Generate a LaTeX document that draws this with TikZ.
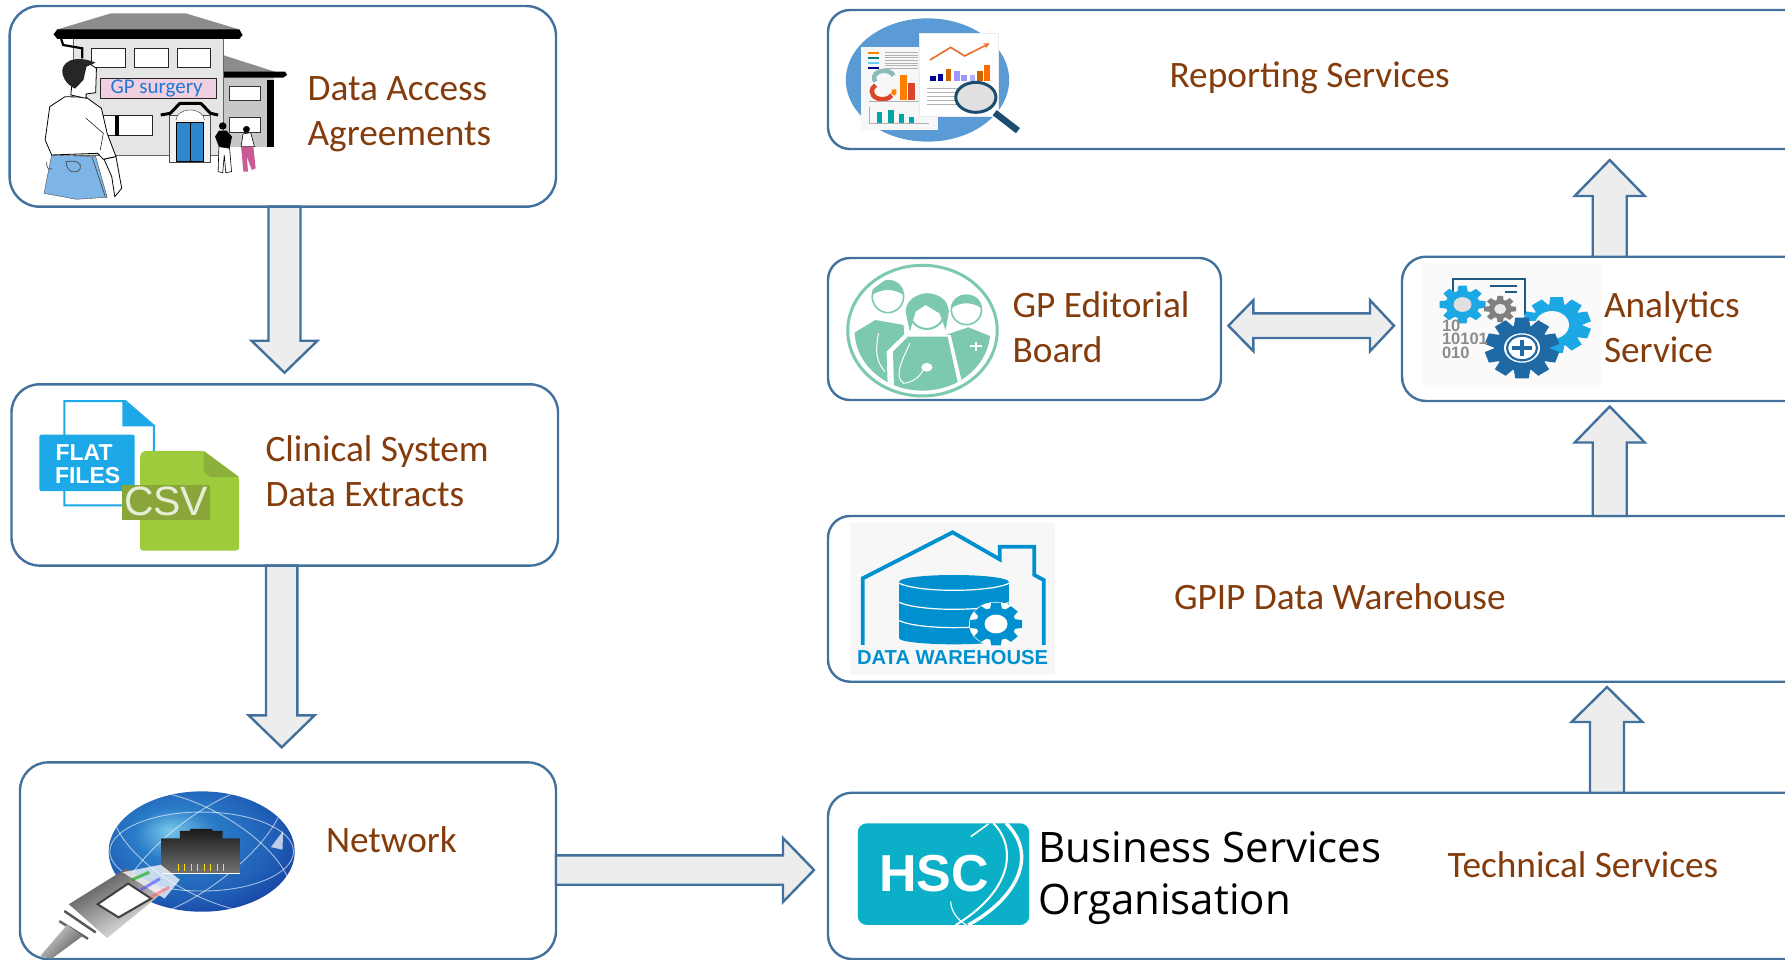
\documentclass[tikz,border=0pt]{standalone}
\usepackage{fontspec}
\setmainfont{Carlito}
\newfontfamily\arialf{Liberation Sans}
\newfontfamily\bsofont{Open Sans}
\usetikzlibrary{calc,shapes.geometric}
\definecolor{edgeblue}{HTML}{41719C}
\definecolor{arrowfill}{HTML}{EDEDED}
\definecolor{labelbrown}{HTML}{843C0C}
\definecolor{filesblue}{HTML}{1DA9E8}
\definecolor{csvgreen}{HTML}{9DCB3B}
\definecolor{csvfold}{HTML}{8CB03A}
\definecolor{csvband}{HTML}{8AA63A}
\definecolor{csvtext}{HTML}{E8EDD8}
\definecolor{medgreen}{HTML}{7CC9AE}
\definecolor{dwblue}{HTML}{0090D0}
\definecolor{hsc}{HTML}{0BB0C8}
\definecolor{gearlight}{HTML}{1BA8E4}
\definecolor{geardark}{HTML}{1F6AA5}
\definecolor{cardline}{HTML}{1F5A82}
\definecolor{jeans}{HTML}{7DB6E6}
\definecolor{signpink}{HTML}{EFCFE0}
\definecolor{doorblue}{HTML}{2E86CC}
\definecolor{legpink}{HTML}{C85A96}
\definecolor{signtext}{HTML}{1F78D1}
\definecolor{globelight}{HTML}{78C6EA}
\definecolor{globemid}{HTML}{2A7CC8}
\definecolor{globemidb}{HTML}{1F5CB5}
\definecolor{globeout}{HTML}{16309A}
\definecolor{repblue}{HTML}{5B9BD5}
\definecolor{repred}{HTML}{DC4628}
\definecolor{reporange}{HTML}{E86E28}
\definecolor{lensdark}{HTML}{1B4D6E}
\pgfdeclareradialshading{globeshade}{\pgfpoint{-9bp}{9bp}}{color(0bp)=(globelight); color(11bp)=(globemid); color(25bp)=(globemidb); color(36bp)=(globeout); color(50bp)=(globeout)}
\tikzset{
  roundbox/.style={draw=edgeblue,line width=2.4pt,fill=white,rectangle,anchor=north west,inner sep=0pt,outer sep=0pt},
  blockshape/.style={draw=edgeblue,line width=2.4pt,fill=arrowfill,line join=miter},
  lbl/.style={anchor=base west,inner sep=0pt,outer sep=0pt,text=labelbrown,align=left,font=\fontsize{37.3}{45}\selectfont},
  iconlbl/.style={inner sep=0pt,outer sep=0pt,anchor=base west},
}
% start, tip, half shaft, half head, head length
\newcommand{\blockarrow}[5]{%
  \coordinate (sh) at ($(#2)!#5!(#1)$);
  \draw[blockshape] ($(#1)!#3!90:(#2)$) -- ($(sh)!#3!-90:(#1)$) -- ($(sh)!#4!-90:(#1)$) -- (#2)
     -- ($(sh)!#4!90:(#1)$) -- ($(sh)!#3!90:(#1)$) -- ($(#1)!#3!-90:(#2)$) -- cycle;}
% x,y,router,rinner,teeth,color  (flattened like the stretched original)
\newcommand{\gear}[6]{%
  \pgfmathsetmacro{\tw}{#4*0.3}
  \fill[fill=#6,shift={(#1,#2)},yscale=0.82] (0,0) circle (#4);
  \foreach \k in {1,...,#5}{
    \fill[fill=#6,shift={(#1,#2)},yscale=0.82,rotate=\k*360/#5] (-\tw,#4*0.9) -- (-\tw*0.8,#3) -- (\tw*0.8,#3) -- (\tw,#4*0.9) -- cycle;}
}
\newcommand{\gearhole}[4]{\fill[fill=#4,shift={(#1,#2)},yscale=0.82] (0,0) circle (#3);}
\begin{document}
\begin{tikzpicture}[x=1pt,y=-1pt]
\useasboundingbox (0,0) rectangle (1785,960);
\clip (0,0) rectangle (1785,960);
\fill[white] (0,0) rectangle (1785,960);

% ---------- boxes
\node[roundbox,minimum width=546.4pt,minimum height=200.7pt,rounded corners=30pt] (accessbox) at (9.6,6) {};
\node[roundbox,minimum width=546.5pt,minimum height=181.3pt,rounded corners=28pt] (extractbox) at (11.5,384.3) {};
\node[roundbox,minimum width=536pt,minimum height=196.6pt,rounded corners=28pt] (netbox) at (20,762.4) {};
\node[roundbox,minimum width=990pt,minimum height=139pt,rounded corners=22pt] (reportbox) at (828,10) {};
\node[roundbox,minimum width=393pt,minimum height=142pt,rounded corners=22pt] (editbox) at (828,258) {};
\node[roundbox,minimum width=420pt,minimum height=144.3pt,rounded corners=24pt] (analyticbox) at (1402,256.7) {};
\node[roundbox,minimum width=990pt,minimum height=165.7pt,rounded corners=22pt] (dwbox) at (828,516) {};
\node[roundbox,minimum width=990pt,minimum height=166.3pt,rounded corners=24pt] (hscbox) at (828,792.7) {};

% ---------- connectors
\coordinate (tipA) at (284.5,372.7);
\path (accessbox.south -| tipA) coordinate (startA);
\blockarrow{startA}{tipA}{16pt}{33pt}{32pt}
\coordinate (tipB) at (281.7,747.3);
\path (extractbox.south -| tipB) coordinate (startB);
\blockarrow{startB}{tipB}{15.7pt}{33pt}{32pt}
\coordinate (tipC) at (814,870);
\path (netbox.east |- tipC) coordinate (startC);
\blockarrow{startC}{tipC}{14.7pt}{32pt}{31pt}
\coordinate (tipD) at (1607,687);
\path (hscbox.north -| tipD) coordinate (startD);
\blockarrow{startD}{tipD}{17pt}{35.5pt}{35pt}
\coordinate (tipE) at (1609.7,406.5);
\path (dwbox.north -| tipE) coordinate (startE);
\blockarrow{startE}{tipE}{17pt}{35pt}{36pt}
\coordinate (tipF) at (1609.7,160);
\path (analyticbox.north -| tipF) coordinate (startF);
\blockarrow{startF}{tipF}{17pt}{35pt}{36pt}
\coordinate (tipL) at (1228.4,325.7);
\coordinate (tipR) at (1394,325.7);
\draw[blockshape] (tipL) -- ($(tipL)+(25,-25.5)$) -- ($(tipL)+(25,-12.3)$) -- ($(tipR)+(-24,-12.3)$)
  -- ($(tipR)+(-24,-25.5)$) -- (tipR) -- ($(tipR)+(-24,25.5)$) -- ($(tipR)+(-24,12.3)$)
  -- ($(tipL)+(25,12.3)$) -- ($(tipL)+(25,25.5)$) -- cycle;

% ---------- labels
\node[lbl] (tAccess) at (307.6,145.7) {Data Access\\Agreements};
\node[lbl] (tExtract) at (265.5,506) {Clinical System\\Data Extracts};
\node[lbl] (tNet) at (326,852.7) {Network};
\node[lbl] (tReport) at (1169.6,87.5) {Reporting Services};
\node[lbl] (tEdit) at (1012.6,362.5) {GP Editorial\\Board};
\node[lbl] (tAnalytics) at (1604,362.5) {Analytics\\Service};
\node[lbl] (tDw) at (1174,609.5) {GPIP Data Warehouse};
\node[lbl] (tTech) at (1447.6,877.3) {Technical Services};
\node[lbl,text=black,font=\bsofont\fontsize{42}{52}\selectfont] (tBso) at (1038.6,914.2) {Business Services\\Organisation};

% ---------- surgery icon (zoom coordinates)
\begin{scope}[xscale=0.3827,yscale=0.3333]
  \fill[black!22] (582,225) rectangle (715,440);
  \fill[black!45] (582,165) -- (745,225) -- (582,225) -- cycle;
  \fill[black] (582,215) -- (745,215) -- (750,225) -- (740,233) -- (582,233) -- cycle;
  \fill[black] (697,240) rectangle (715,440);
  \fill[white,draw=black!80] (598,258) rectangle (680,302);
  \fill[white,draw=black!80] (598,352) rectangle (680,398);
  \fill[black!10,draw=black!60] (190,115) rectangle (582,465);
  \fill[black!45] (145,90) -- (290,40) -- (485,40) -- (630,90) -- cycle;
  \fill[black] (150,88) -- (625,88) -- (634,105) -- (625,117) -- (150,117) -- (140,103) -- cycle;
  \draw[black,line width=2.2pt] (160,117) -- (165,135) -- (215,145) -- (215,175);
  \foreach \xa/\xb in {240/328,352/440,463/551}
    \draw[fill=white,draw=black!85,line width=1pt] (\xa,145) rectangle (\xb,203);
  \draw[fill=white,draw=black!85,line width=1pt] (270,348) rectangle (398,407);
  \fill[black] (300,348) rectangle (312,407);
  \draw[fill=signpink,draw=black!85,line width=1pt] (262,236) rectangle (566,296);
  \fill[black!5,draw=black!70] (442,345) rectangle (550,488);
  \draw[fill=white,draw=black!80] (460,360) arc[start angle=180,end angle=360,x radius=37,y radius=30];
  \fill[doorblue,draw=black] (460,367) rectangle (532,485);
  \draw[black,line width=0.8pt] (497,367) -- (497,485);
  \draw[black,line width=3pt,line join=round] (420,345) -- (445,340) -- (470,310) -- (525,310) -- (550,340) -- (570,345);
  % man
  \fill[jeans,draw=black!70] (135,465) -- (250,470) -- (280,592) -- (200,598) -- (115,580) -- cycle;
  \draw[black!70,line width=0.7pt] (240,470) -- (275,590);
  \draw[black!70,line width=0.7pt] (172,485) .. controls (175,520) and (200,525) .. (210,505) .. controls (212,490) and (205,480) .. (172,485);
  \draw[black!70,line width=0.7pt] (122,485) .. controls (120,500) and (128,515) .. (135,505);
  \fill[white,draw=black,line width=0.8pt] (130,320) -- (170,290) -- (225,292) -- (265,325) -- (280,400) -- (303,470) -- (270,478) -- (255,460) -- (135,465) -- (118,420) -- cycle;
  \fill[white,draw=black,line width=0.8pt] (272,478) -- (303,470) -- (318,565) -- (300,590) -- (292,530) -- cycle;
  \draw[black,line width=0.5pt] (225,355) -- (270,400) -- (262,450);
  \fill[white,draw=black,line width=0.8pt] (185,285) -- (225,295) -- (225,282) -- (250,278) -- (252,205) -- (232,190) -- (190,230) -- cycle;
  \fill[black!85] (164,225) .. controls (155,190) and (190,160) .. (250,188) -- (226,200) -- (218,240) -- (196,266) .. controls (178,255) and (170,245) .. (164,225) -- cycle;
  % small figures
  \fill[black] (582,378) ellipse (10 and 11);
  \fill[black] (562,410) -- (572,392) -- (592,392) -- (606,410) -- (600,445) -- (572,440) -- cycle;
  \draw[fill=white,draw=black,line width=0.6pt] (572,440) -- (600,445) -- (605,515) -- (590,518) -- (586,465) -- (582,518) -- (570,515) -- cycle;
  \fill[black] (644,388) ellipse (9 and 10);
  \fill[white,draw=black,line width=0.6pt] (630,440) -- (635,402) -- (655,398) -- (665,440) -- cycle;
  \fill[legpink] (630,440) -- (662,440) -- (668,505) -- (658,510) -- (645,470) -- (648,515) -- (636,515) -- cycle;
\end{scope}
\node[iconlbl,text=signtext,font=\fontsize{21}{21}\selectfont] (tSurgery) at (110.5,93.5) {GP surgery};

% ---------- file icons
\begin{scope}[shift={(0,370)},xscale=0.3827,yscale=0.3762]
  \draw[fill=white,draw=filesblue,line width=2pt] (168,83) -- (328,83) -- (402,148) -- (402,360) -- (168,360) -- cycle;
  \fill[filesblue] (320,80) -- (405,150) -- (320,150) -- cycle;
  \fill[filesblue,rounded corners=2pt] (103,172) rectangle (352,322);
  \fill[csvgreen,rounded corners=3pt] (366,225) -- (375,215) -- (532,215) -- (625,285) -- (625,480) -- (366,480) -- cycle;
  \fill[csvfold] (532,215) -- (625,285) -- (550,285) -- (532,270) -- cycle;
  \fill[csvband] (320,306) rectangle (550,400);
\end{scope}
\node[iconlbl,text=white,font=\arialf\bfseries\fontsize{23}{23}\selectfont] (tFlat) at (55.5,460) {FLAT};
\node[iconlbl,text=white,font=\arialf\bfseries\fontsize{23}{23}\selectfont] (tFiles) at (55,483) {FILES};
\node[iconlbl,text=csvtext,font=\arialf\fontsize{41}{41}\selectfont] (tCsv) at (124,515) {CSV};

% ---------- network icon
\begin{scope}[shift={(0,370)},xscale=0.3827,yscale=0.3762]
  \shade[shading=globeshade] (527,1280) ellipse (243 and 160);
  \begin{scope}
    \clip (527,1280) ellipse (243 and 160);
    \draw[white,opacity=0.6,line width=0.9pt] (527,1280) ellipse (240 and 105);
    \draw[white,opacity=0.6,line width=0.9pt,rotate around={38:(527,1280)}] (527,1280) ellipse (260 and 90);
    \draw[white,opacity=0.6,line width=0.9pt,rotate around={-30:(527,1280)}] (527,1280) ellipse (260 and 110);
  \end{scope}
  \fill[white,opacity=0.7] (740,1225) -- (738,1275) -- (708,1268) -- cycle;
  \shade[top color=black!90,bottom color=black!55] (422,1245) -- (470,1245) -- (470,1225) -- (497,1225) -- (497,1220) -- (555,1220) -- (555,1225) -- (582,1225) -- (582,1245) -- (627,1245) -- (627,1338) -- (422,1338) -- cycle;
  \draw[white,line width=1pt] (422,1338) -- (627,1338);
  \foreach \p in {465,482,...,585} \draw[yellow!80!orange,line width=0.9pt] (\p,1312) -- (\p,1333);
  % plug
  \shade[left color=black!70,right color=black!5,shading angle=30] (180,1420) -- (330,1325) -- (430,1385) -- (280,1510) -- cycle;
  \fill[white,opacity=0.75] (320,1335) -- (420,1315) -- (470,1355) -- (430,1405) -- cycle;
  \draw[black!75,fill=white,line width=2pt] (255,1420) -- (335,1365) -- (395,1405) -- (310,1455) -- cycle;
  \draw[green!65!black,opacity=0.6,line width=3pt] (345,1355) -- (390,1335);
  \draw[blue!70,opacity=0.6,line width=3pt] (368,1382) -- (418,1352);
  \draw[red!70,opacity=0.5,line width=3pt] (393,1402) -- (442,1375);
  \draw[black!65,line width=2.5pt] (168,1438) -- (250,1495);
  \draw[black!60,line width=2.5pt] (155,1465) -- (230,1512);
  \shade[left color=black!15,right color=black!65,shading angle=45] (105,1558) -- (175,1475) -- (215,1505) -- (135,1565) -- cycle;
\end{scope}

% ---------- reporting icon
\begin{scope}[shift={(800,0)},xscale=0.628,yscale=0.3333]
  \fill[repblue] (203,240) ellipse (130 and 185);
  \fill[black!3] (97,140) rectangle (220,390);
  \foreach \yy/\cc in {157/orange,172/teal,187/cyan!60!white,202/blue!50!black}
    \fill[fill=\cc] (108,\yy) rectangle (125,\yy+6);
  \foreach \yy in {157,165,...,205} \draw[black!30,line width=0.7pt] (135,\yy) -- (188,\yy);
  \draw[line width=4.5pt,repred] (146,286) arc[start angle=30,end angle=230,x radius=17,y radius=24];
  \draw[line width=4.5pt,black!20!teal!45!white] (120,245) arc[start angle=150,end angle=340,x radius=16,y radius=22];
  \draw[line width=4.5pt,orange] (150,268) arc[start angle=-10,end angle=30,x radius=17,y radius=24];
  \fill[orange] (160,225) rectangle (171,300);
  \fill[repred] (172,250) rectangle (183,300);
  \draw[black!30,line width=1pt] (110,305) -- (190,305);
  \draw[black!30,line width=1pt] (110,320) -- (110,372) -- (205,372);
  \foreach \xx/\hh in {122/335,140/330,157/342,173/352} \fill[teal!70!cyan] (\xx,\hh) rectangle (\xx+9,370);
  \fill[white,draw=black!8] (190,100) rectangle (315,350);
  \draw[reporange,line width=1.6pt,-stealth] (207,180) -- (240,142) -- (262,168) -- (302,130);
  \foreach \xx/\hh/\cc in {207/228/blue!60!black,219/222/blue!60!black,232/208/orange!80!black,245/214/blue!40,257/226/blue!40!white,270/226/blue!30!white,282/214/orange!80!black,293/196/orange!85!red}
    \fill[fill=\cc] (\xx,\hh) rectangle (\xx+9,243);
  \foreach \yy in {265,277,...,322} \draw[black!30,line width=0.7pt] (203,\yy) -- (300,\yy);
  \fill[black!12] (280,292) ellipse (32 and 45);
  \draw[lensdark,line width=3pt] (280,292) ellipse (32 and 45);
  \draw[lensdark,line width=6.5pt] (310,338) -- (347,392);
\end{scope}

% ---------- medallion
\begin{scope}[shift={(800,0)},xscale=0.628,yscale=0.3333]
  \draw[fill=white,draw=medgreen,line width=3pt] (195,992) ellipse (119 and 196);
  \begin{scope}
    \clip (195,992) ellipse (108 and 180);
    \draw[fill=white,draw=medgreen,line width=1.6pt] (140,890) ellipse (25 and 48);
    \fill[medgreen] (115,885) .. controls (115,825) and (165,825) .. (165,885) .. controls (150,865) and (130,865) .. (115,885) -- cycle;
    \fill[medgreen] (80,1180) -- (85,1000) -- (120,960) -- (165,975) -- (170,1180) -- cycle;
    \draw[fill=white,draw=medgreen,line width=1.6pt] (265,930) ellipse (24 and 44);
    \fill[medgreen] (241,925) .. controls (241,870) and (289,870) .. (289,925) .. controls (275,905) and (255,905) .. (241,925) -- cycle;
    \fill[medgreen] (235,1180) -- (232,1005) -- (268,982) -- (305,1010) -- (320,1180) -- cycle;
    \fill[white] (140,1180) -- (138,1055) -- (165,1005) -- (240,1005) -- (262,1180) -- cycle;
    \fill[medgreen] (150,1180) -- (148,1055) -- (172,1010) -- (235,1010) -- (255,1180) -- cycle;
    \draw[fill=white,draw=medgreen,line width=2pt] (202,935) ellipse (28 and 52);
    \fill[medgreen] (168,935) .. controls (170,865) and (235,860) .. (237,935) -- (232,990) -- (222,940) -- (200,915) -- (184,935) -- (175,995) -- cycle;
    \draw[white,line width=1pt] (125,1000) .. controls (120,1050) and (120,1080) .. (135,1115);
    \draw[white,line width=1pt] (175,1030) .. controls (160,1090) and (150,1130) .. (165,1150) .. controls (190,1145) and (195,1110) .. (200,1100);
    \fill[white] (202,1102) ellipse (9 and 13);
    \draw[white,line width=1.8pt] (280,1025) -- (280,1052) (270,1038) -- (290,1038);
  \end{scope}
\end{scope}

% ---------- analytics icon
\fill[black!2] (1421.7,263.3) rectangle (1600.7,386.7);
\draw[cardline,line width=1.5pt] (1453,295) -- (1453,279) -- (1525,279) -- (1525,315);
\draw[cardline,line width=1.5pt] (1490,286) -- (1517,286) (1505,292) -- (1517,292);
\gear{1462.5}{304.5}{23}{17}{8}{gearlight}
\gearhole{1462.5}{304.5}{9}{black!12}
\gear{1500.2}{309}{16}{11.5}{8}{black!50}
\gearhole{1500.2}{309}{6}{black!8}
\gear{1556.7}{325}{34}{26}{10}{gearlight}
\gearhole{1552}{325}{17}{black!2}
\fill[black!2] (1515,322) -- (1552,320) -- (1550,352) -- (1515,350) -- cycle;
\gear{1522}{348}{37}{28}{10}{geardark}
\gearhole{1522}{348}{18}{white}
\draw[geardark,line width=2.2pt,shift={(1522,348)},yscale=0.82] (0,0) circle (15);
\draw[geardark,line width=3.2pt] (1522,340) -- (1522,356) (1512,348) -- (1532,348);
\node[iconlbl,text=black!45,align=left,font=\arialf\bfseries\fontsize{16.5}{13.4}\selectfont] (tBin) at (1442,358) {10\\10101\\010};

% ---------- warehouse icon
\begin{scope}[shift={(800,500)},xscale=0.628,yscale=0.3333]
  \fill[black!3] (80,70) rectangle (406,525);
  \draw[dwblue,line width=3.8pt,line join=miter] (100,435) -- (100,235) -- (243,97) -- (318,178) -- (318,140) -- (373,140) -- (373,225) -- (388,240) -- (388,435);
  \fill[dwblue] (158,245) rectangle (333,415);
  \fill[dwblue] (245,415) ellipse (87 and 18);
  \fill[dwblue] (245,245) ellipse (87 and 20);
  \draw[white,line width=1.2pt] (158,250) .. controls (190,278) and (300,278) .. (333,250);
  \draw[white,line width=1.2pt] (158,307) .. controls (190,335) and (300,335) .. (333,307);
  \draw[white,line width=1.2pt] (158,362) .. controls (190,390) and (300,390) .. (333,362);
\end{scope}
\gearhole{996}{624}{27}{white}
\gear{996}{624}{26}{20}{8}{dwblue}
\gearhole{996}{624}{11.5}{white}
\node[iconlbl,text=dwblue,font=\arialf\bfseries\fontsize{20.2}{20}\selectfont] (tDwIcon) at (857,664) {DATA WAREHOUSE};

% ---------- HSC logo
\begin{scope}[shift={(800,500)},xscale=0.628,yscale=0.3333]
  \fill[hsc,rounded corners=9pt] (92,970) rectangle (365,1275);
  \draw[white,line width=3.4pt] (328,970) .. controls (378,1060) and (350,1190) .. (268,1275);
  \draw[white,line width=2pt] (308,970) .. controls (345,1040) and (340,1170) .. (248,1275);
  \draw[white,line width=1.2pt] (240,1205) .. controls (240,1230) and (250,1260) .. (265,1275);
  \draw[white,line width=1.6pt] (272,1010) -- (300,972);
\end{scope}
\node[iconlbl,text=white,font=\arialf\bfseries\fontsize{52}{52}\selectfont] (tHsc) at (879,891.7) {HSC};
\end{tikzpicture}
\end{document}
